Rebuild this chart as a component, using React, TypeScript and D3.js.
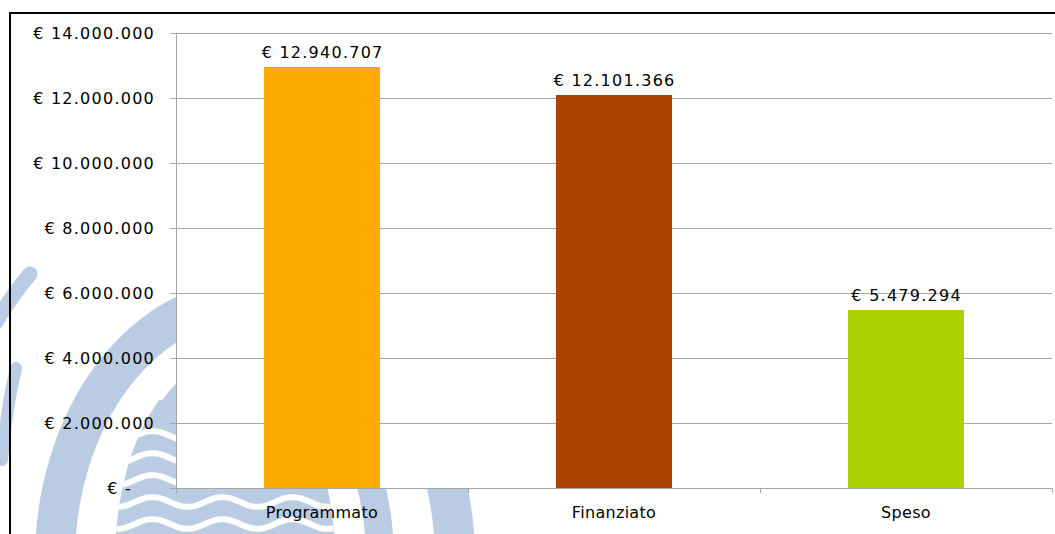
import React from 'react';
import * as d3 from 'd3';

const categories = ['Programmato', 'Finanziato', 'Speso'];
const values = [12940707, 12101366, 5479294];
const barColors = ['#FFAA00', '#AA4400', '#AAD200'];
const yTicks = [0, 2000000, 4000000, 6000000, 8000000, 10000000, 12000000, 14000000];

const W = 1055;
const H = 534;
const plot = { left: 176, right: 1052, top: 33, bottom: 488 };
const FONT = '"DejaVu Sans", Verdana, sans-serif';
const WM = '#b9cce4';

const locale = d3.formatLocale({ decimal: ',', thousands: '.', grouping: [3], currency: ['€ ', ''] });
const fmtMoney = locale.format('$,.0f');
const fmtTick = (v: number) => (v === 0 ? '€ -' : fmtMoney(v));

function wavePath(y0: number, x0: number, x1: number) {
  const pts: [number, number][] = [];
  for (let xx = x0; xx <= x1; xx += 5) {
    pts.push([xx, y0 + 5 * Math.sin(((xx - x0) / 70) * Math.PI * 2)]);
  }
  return d3.line().curve(d3.curveBasis)(pts) || '';
}

export default function App() {
  const x = d3.scaleBand<string>().domain(categories).range([plot.left, plot.right]).paddingInner(0).paddingOuter(0);
  const y = d3.scaleLinear().domain([0, 14000000]).range([plot.bottom, plot.top]);
  const step = x.step();
  const bw = step * 0.4;
  const tickXs = [plot.left, ...categories.map((c) => (x(c) as number) + step)];
  const waves = [436, 458, 480, 502, 524, 546];

  return (
    <div style={{ position: 'absolute', left: 0, top: 0 }}>
      <svg width={W} height={H} style={{ display: 'block', background: '#fff' }} fontFamily={FONT}>
        <defs>
          <clipPath id="waveclip">
            <ellipse cx={225} cy={560} rx={110} ry={200} />
          </clipPath>
        </defs>
        {/* watermark */}
        <g fill="none" stroke={WM}>
          <ellipse cx={255} cy={560} rx={200} ry={262} strokeWidth={40} />
          <ellipse cx={255} cy={560} rx={125} ry={200} strokeWidth={28} />
          <path d="M 30 274 Q 12 295 -4 322" strokeWidth={15} strokeLinecap="round" />
          <path d="M 16 368 Q 6 410 2 460" strokeWidth={12} strokeLinecap="round" />
          <g clipPath="url(#waveclip)">
            <rect x={100} y={400} width={260} height={160} fill={WM} stroke="none" />
            {waves.map((wy) => (
              <path key={wy} d={wavePath(wy, 100, 360)} stroke="#fff" strokeWidth={6} />
            ))}
          </g>
        </g>
        {/* frame */}
        <rect x={10} y={13} width={1200} height={700} fill="none" stroke="#000" strokeWidth={2} />
        {/* plot area */}
        <rect x={plot.left} y={plot.top} width={plot.right - plot.left} height={plot.bottom - plot.top} fill="#fff" />
        {/* gridlines */}
        <g stroke="#a6a6a6" strokeWidth={1} shapeRendering="crispEdges">
          {yTicks.map((t) => (
            <line key={t} x1={plot.left - 6} x2={plot.right} y1={y(t)} y2={y(t)} />
          ))}
          <line x1={plot.left} x2={plot.left} y1={plot.top} y2={plot.bottom} />
          {tickXs.map((tx, i) => (
            <line key={i} x1={tx} x2={tx} y1={plot.bottom} y2={plot.bottom + 5} />
          ))}
        </g>
        {/* bars */}
        {categories.map((c, i) => (
          <rect
            key={c}
            x={(x(c) as number) + (step - bw) / 2}
            y={y(values[i])}
            width={bw}
            height={plot.bottom - y(values[i])}
            fill={barColors[i]}
            shapeRendering="crispEdges"
          />
        ))}
        {/* y tick labels */}
        {yTicks.map((t) => (
          <text
            key={t}
            x={t === 0 ? 132 : 155}
            y={y(t)}
            dy="0.36em"
            textAnchor="end"
            fontSize={16}
            letterSpacing={1.25}
            fill="#000"
          >
            {fmtTick(t)}
          </text>
        ))}
        {/* data labels */}
        {categories.map((c, i) => (
          <text
            key={c}
            x={(x(c) as number) + step / 2 + 0.6}
            y={y(values[i]) - 9}
            textAnchor="middle"
            fontSize={16}
            letterSpacing={1.25}
            fill="#000"
          >
            {fmtMoney(values[i])}
          </text>
        ))}
        {/* category labels */}
        {categories.map((c) => (
          <text
            key={c}
            x={(x(c) as number) + step / 2}
            y={518}
            textAnchor="middle"
            fontSize={16}
            letterSpacing={0.3}
            fill="#000"
          >
            {c}
          </text>
        ))}
      </svg>
    </div>
  );
}
